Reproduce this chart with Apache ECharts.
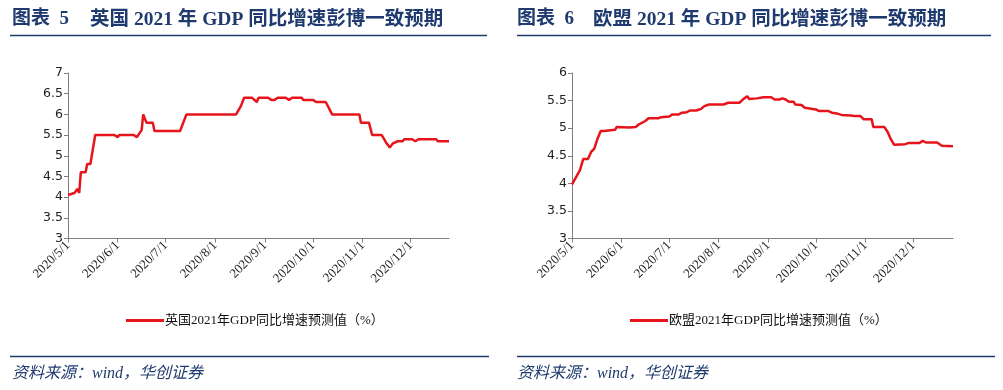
<!DOCTYPE html>
<html>
<head>
<meta charset="utf-8">
<script src="https://cdn.jsdelivr.net/npm/echarts@6/dist/echarts.min.js"></script>
<style>
html,body{margin:0;padding:0;background:#fff;}
#c{width:1003px;height:390px;}
</style>
</head>
<body>
<div id="c"></div>
<script>
// UK 2021 GDP consensus forecast (%)
var ukDates = ['2020-05-01','2020-05-05','2020-05-06','2020-05-07','2020-05-08','2020-05-09','2020-05-12','2020-05-13','2020-05-15','2020-05-18','2020-05-30','2020-06-01','2020-06-02','2020-06-11','2020-06-13','2020-06-16','2020-06-17','2020-06-19','2020-06-23','2020-06-24','2020-07-10','2020-07-14','2020-08-14','2020-08-17','2020-08-19','2020-08-24','2020-08-27','2020-08-28','2020-09-03','2020-09-05','2020-09-07','2020-09-09','2020-09-14','2020-09-16','2020-09-18','2020-09-24','2020-09-25','2020-10-01','2020-10-03','2020-10-09','2020-10-13','2020-10-30','2020-10-31','2020-11-05','2020-11-07','2020-11-13','2020-11-16','2020-11-18','2020-11-20','2020-11-23','2020-11-26','2020-11-27','2020-12-02','2020-12-04','2020-12-06','2020-12-17','2020-12-18','2020-12-25'];
var ukValues = [4.05,4.1,4.1,4.2,4.1,4.6,4.6,4.8,4.8,5.5,5.5,5.45,5.5,5.5,5.45,5.62,6.0,5.8,5.8,5.6,5.6,6.0,6.0,6.2,6.4,6.4,6.3,6.4,6.4,6.35,6.35,6.4,6.4,6.35,6.4,6.4,6.35,6.35,6.3,6.3,6.0,6.0,5.8,5.8,5.5,5.5,5.3,5.2,5.3,5.35,5.35,5.4,5.4,5.35,5.4,5.4,5.35,5.35];

// EU 2021 GDP consensus forecast (%)
var euDates = ['2020-05-01','2020-05-06','2020-05-08','2020-05-11','2020-05-13','2020-05-15','2020-05-17','2020-05-19','2020-05-21','2020-05-28','2020-05-29','2020-06-06','2020-06-10','2020-06-12','2020-06-16','2020-06-18','2020-06-24','2020-06-26','2020-07-01','2020-07-03','2020-07-07','2020-07-09','2020-07-12','2020-07-14','2020-07-18','2020-07-21','2020-07-23','2020-07-26','2020-08-04','2020-08-07','2020-08-14','2020-08-17','2020-08-19','2020-08-20','2020-08-25','2020-08-29','2020-09-03','2020-09-05','2020-09-08','2020-09-10','2020-09-12','2020-09-14','2020-09-17','2020-09-18','2020-09-22','2020-09-24','2020-10-01','2020-10-03','2020-10-09','2020-10-11','2020-10-15','2020-10-17','2020-10-23','2020-10-25','2020-10-29','2020-10-30','2020-10-31','2020-11-05','2020-11-06','2020-11-13','2020-11-15','2020-11-17','2020-11-19','2020-11-26','2020-11-28','2020-12-05','2020-12-07','2020-12-09','2020-12-16','2020-12-19','2020-12-26'];
var euValues = [3.98,4.24,4.44,4.44,4.57,4.63,4.81,4.95,4.95,4.97,5.02,5.01,5.02,5.07,5.13,5.18,5.18,5.2,5.21,5.25,5.25,5.28,5.29,5.32,5.32,5.35,5.4,5.43,5.43,5.46,5.46,5.54,5.58,5.53,5.54,5.56,5.56,5.52,5.52,5.54,5.52,5.48,5.48,5.43,5.42,5.37,5.34,5.31,5.31,5.28,5.26,5.24,5.23,5.22,5.22,5.24,5.16,5.16,5.02,5.02,4.93,4.8,4.7,4.71,4.73,4.73,4.77,4.74,4.74,4.68,4.67];

var ukName = '英国2021年GDP同比增速预测值（%）';
var euName = '欧盟2021年GDP同比增速预测值（%）';

function pairs(d, v){ return d.map(function(x,i){ return [x, v[i]]; }); }

var RED = '#e8141c';
var BLUE = '#1f3a6e';
var AXIS = '#808080';
var serif = "'Liberation Serif','Times New Roman','Noto Sans CJK SC',serif";

function fmtDate(val){
  var d = new Date(val);
  return d.getFullYear() + '/' + (d.getMonth()+1) + '/' + d.getDate();
}

function xAxis(idx, maxDate){
  return {
    type:'time', gridIndex:idx,
    min:'2020-05-01', max:maxDate,
    splitNumber:8,
    minInterval: 28*86400000,
    maxInterval: 31*86400000,
    axisLine:{lineStyle:{color:AXIS,width:1}},
    axisTick:{show:true,length:4,lineStyle:{color:AXIS}},
    splitLine:{show:false},
    axisLabel:{rotate:45, color:'#222', fontSize:13, fontFamily:serif, formatter:fmtDate, showMaxLabel:false, margin:5, hideOverlap:false}
  };
}
function yAxis(idx, min, max){
  return {
    type:'value', gridIndex:idx, min:min, max:max, interval:0.5,
    axisLine:{show:true,lineStyle:{color:AXIS,width:1}},
    axisTick:{show:true,length:4,lineStyle:{color:AXIS}},
    splitLine:{show:false},
    axisLabel:{color:'#222', fontSize:12.5, fontFamily:"'DejaVu Sans','Noto Sans',sans-serif", margin:5}
  };
}

var chart = echarts.init(document.getElementById('c'), null, {renderer:'canvas'});
chart.setOption({
  animation:false,
  backgroundColor:'#fff',
  grid:[
    {left:68, top:73, width:381, height:165.5},
    {left:572, top:73, width:381, height:165.5}
  ],
  xAxis:[ xAxis(0,'2020-12-25'), xAxis(1,'2020-12-26') ],
  yAxis:[ yAxis(0,3,7), yAxis(1,3,6) ],
  legend:[
    {data:[ukName], left:121, top:309, icon:'rect', itemWidth:38, itemHeight:3, itemGap:2,
     textStyle:{fontSize:13, color:'#111', fontFamily:serif, padding:[0,0,0,-4]}},
    {data:[euName], left:625, top:309, icon:'rect', itemWidth:38, itemHeight:3, itemGap:2,
     textStyle:{fontSize:13, color:'#111', fontFamily:serif, padding:[0,0,0,-4]}}
  ],
  series:[
    {name:ukName, type:'line', xAxisIndex:0, yAxisIndex:0, data:pairs(ukDates, ukValues), showSymbol:false, symbol:'none',
     lineStyle:{color:RED, width:2.5}, itemStyle:{color:RED}},
    {name:euName, type:'line', xAxisIndex:1, yAxisIndex:1, data:pairs(euDates, euValues), showSymbol:false, symbol:'none',
     lineStyle:{color:RED, width:2.5}, itemStyle:{color:RED}}
  ],
  graphic:[
    {type:'text', left:12, top:10, style:{text:'图表  5', fill:BLUE, font:"bold 19px "+serif}},
    {type:'text', left:90, top:10, style:{text:'英国 2021 年 GDP 同比增速彭博一致预期', fill:BLUE, font:"bold 19.5px "+serif}},
    {type:'line', shape:{x1:10, y1:35.5, x2:487, y2:35.5}, style:{stroke:BLUE, lineWidth:1.5}},
    {type:'text', left:517, top:10, style:{text:'图表  6', fill:BLUE, font:"bold 19px "+serif}},
    {type:'text', left:593, top:10, style:{text:'欧盟 2021 年 GDP 同比增速彭博一致预期', fill:BLUE, font:"bold 19.5px "+serif}},
    {type:'line', shape:{x1:517, y1:35.5, x2:991, y2:35.5}, style:{stroke:BLUE, lineWidth:1.5}},
    {type:'line', shape:{x1:10, y1:356.5, x2:489, y2:356.5}, style:{stroke:BLUE, lineWidth:1.5}},
    {type:'line', shape:{x1:517, y1:356.5, x2:995, y2:356.5}, style:{stroke:BLUE, lineWidth:1.5}},
    {type:'text', left:12, top:366, style:{text:'资料来源：wind，华创证券', fill:BLUE, font:"italic 16px "+serif}},
    {type:'text', left:517, top:366, style:{text:'资料来源：wind，华创证券', fill:BLUE, font:"italic 16px "+serif}}
  ]
});
</script>
</body>
</html>
